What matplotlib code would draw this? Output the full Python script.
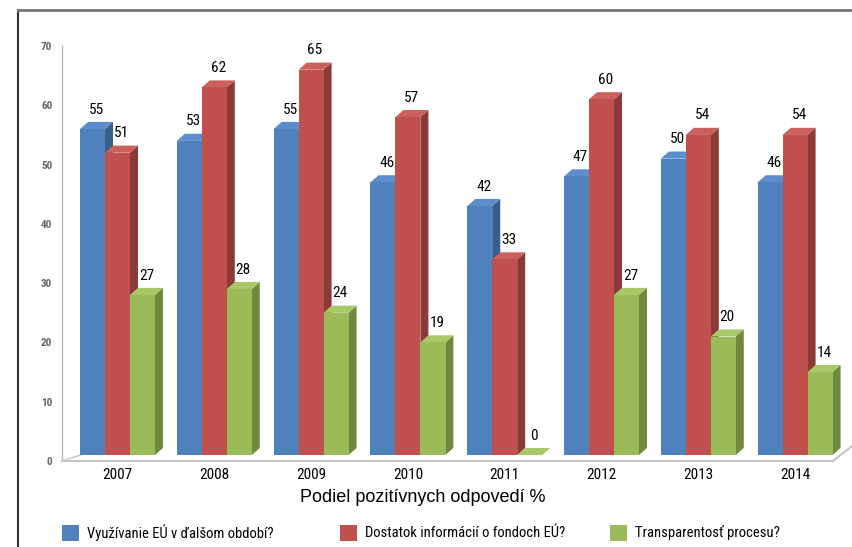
import matplotlib.pyplot as plt
from matplotlib.patches import Polygon, Rectangle
from matplotlib.lines import Line2D

plt.rcParams['font.family'] = ['Roboto Condensed', 'DejaVu Sans']

years = ['2007', '2008', '2009', '2010', '2011', '2012', '2013', '2014']
vyuzivanie = [55, 53, 55, 46, 42, 47, 50, 46]
dostatok = [51, 62, 65, 57, 33, 60, 54, 54]
transparentnost = [27, 28, 24, 19, 0, 27, 20, 14]
series_names = ['Využívanie EÚ v ďalšom období?',
                'Dostatok informácií o fondoch EÚ?',
                'Transparentosť procesu?']
axis_title = 'Podiel pozitívnych odpovedí %'

# front, side, top colours
colors = [('#4F81BD', '#385E8C', '#5C8ECB'),
          ('#C0504D', '#8C3A38', '#CC605D'),
          ('#9BBB59', '#6F8A3C', '#A9C868')]

bw = 0.258    # bar width in category units
dx = 0.083    # 3d depth, x
dy = 1.2      # 3d depth, y
off = 1.0     # bars stand on the back of the floor

fig = plt.figure(figsize=(8.52, 5.47), dpi=100)
ax = fig.add_axes([62 / 852, 86 / 547, 790 / 852, 415 / 547])
x0, x1 = -0.573, 7.588
ax.set_xlim(x0, x1)
ax.set_ylim(0, 70)
for s in ax.spines.values():
    s.set_visible(False)

ax.set_yticks(range(0, 71, 10))
ax.tick_params(axis='y', length=0, pad=7, labelsize=8, labelcolor='#666666')
for t in ax.get_yticklabels():
    t.set_fontweight('bold')
ax.set_xticks(range(len(years)))
ax.set_xticklabels(years, fontsize=11)
ax.tick_params(axis='x', length=0, pad=5)

# axis and floor
ax.plot([x0, x0], [0, 70], color='#b8b8b8', lw=1, clip_on=False)
ax.plot([x0, 7.39], [0, 0], color='#c4c4c4', lw=1.5, clip_on=False)
ax.plot([x0, x0 + 0.19], [0, off], color='#c4c4c4', lw=1, clip_on=False)
ax.plot([7.39, x1], [0, 2.5], color='#c4c4c4', lw=1.5, clip_on=False)

for i, vals in enumerate([vyuzivanie, dostatok, transparentnost]):
    front, side, top = colors[i]
    for j, v in enumerate(vals):
        xl = j + (i - 1) * bw - bw / 2
        xr = xl + bw
        yb, yt = off, off + v
        ax.add_patch(Polygon([(xr, yb), (xr + dx, yb + dy), (xr + dx, yt + dy), (xr, yt)],
                             closed=True, facecolor=side, edgecolor='none', zorder=2 + 3 * i))
        ax.add_patch(Polygon([(xl, yt), (xl + dx, yt + dy), (xr + dx, yt + dy), (xr, yt)],
                             closed=True, facecolor=top, edgecolor='none', zorder=2 + 3 * i))
    xs = [j + (i - 1) * bw for j in range(len(vals))]
    ax.bar(xs, vals, width=bw, bottom=off, color=front, zorder=3 + 3 * i)
    for xc, v in zip(xs, vals):
        ax.text(xc + dx / 2, v + off + dy + 0.9, str(v), ha='center', va='bottom',
                fontsize=11, zorder=20)

fig.text(423 / 852, (547 - 498) / 547, axis_title, ha='center', va='center',
         fontsize=13, family=['Liberation Sans', 'DejaVu Sans'])

# legend
leg_x = [62, 340, 610]
for k, name in enumerate(series_names):
    fig.add_artist(Rectangle((leg_x[k] / 852, (547 - 541) / 547), 17 / 852, 16 / 547,
                             transform=fig.transFigure, facecolor=colors[k][0], edgecolor='none'))
    fig.text((leg_x[k] + 25) / 852, (547 - 533) / 547, name, ha='left', va='center', fontsize=10.5)

# frame
fig.add_artist(Line2D([18 / 852, 18 / 852], [0, 537 / 547], color='#333333', lw=1.5))
fig.add_artist(Line2D([18 / 852, 1], [537 / 547, 537 / 547], color='#777777', lw=2))

fig.savefig('out.png', dpi=100)
